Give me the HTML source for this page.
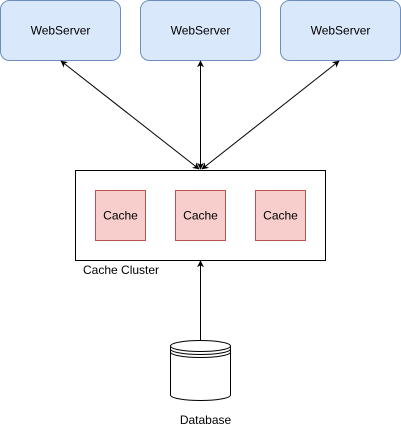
<!DOCTYPE html>
<html><head><meta charset="utf-8"><style>
html,body{margin:0;padding:0;background:#fff;}
svg{display:block;}
text{font-family:"Liberation Sans",Arial,sans-serif;font-size:12px;fill:#000;}
</style></head><body>
<svg width="401" height="431" viewBox="0 0 401 431" xmlns="http://www.w3.org/2000/svg">
<defs>
<marker id="a" viewBox="0 0 10 10" refX="9" refY="5" markerWidth="7" markerHeight="7" orient="auto-start-reverse" markerUnits="userSpaceOnUse">
<path d="M0,0 L10,5 L0,10 L3,5 z" fill="#000"/>
</marker>
</defs>
<rect x="0.5" y="0.5" width="120" height="60" rx="9" fill="#dae8fc" stroke="#6c8ebf"/>
<rect x="140.5" y="0.5" width="120" height="60" rx="9" fill="#dae8fc" stroke="#6c8ebf"/>
<rect x="280.5" y="0.5" width="120" height="60" rx="9" fill="#dae8fc" stroke="#6c8ebf"/>
<text x="60.5" y="34.5" text-anchor="middle">WebServer</text>
<text x="200.5" y="34.5" text-anchor="middle">WebServer</text>
<text x="340.5" y="34.5" text-anchor="middle">WebServer</text>

<rect x="75.5" y="170.5" width="250" height="90" fill="#fff" stroke="#000"/>
<rect x="95.5" y="190.5" width="50" height="50" fill="#f8cecc" stroke="#b85450"/>
<rect x="175.5" y="190.5" width="50" height="50" fill="#f8cecc" stroke="#b85450"/>
<rect x="255.5" y="190.5" width="50" height="50" fill="#f8cecc" stroke="#b85450"/>
<text x="120.5" y="219.5" text-anchor="middle">Cache</text>
<text x="200.5" y="219.5" text-anchor="middle">Cache</text>
<text x="280.5" y="219.5" text-anchor="middle">Cache</text>
<text x="83" y="274">Cache Cluster</text>

<line x1="199" y1="169" x2="61" y2="61" stroke="#000" marker-start="url(#a)" marker-end="url(#a)"/>
<line x1="200.5" y1="169" x2="200.5" y2="61" stroke="#000" marker-start="url(#a)" marker-end="url(#a)"/>
<line x1="202" y1="169" x2="339" y2="61" stroke="#000" marker-start="url(#a)" marker-end="url(#a)"/>

<line x1="200.5" y1="340" x2="200.5" y2="261" stroke="#000" marker-end="url(#a)"/>

<path d="M170.5,346 A30,5.5 0 0 1 230.5,346 L230.5,395 A30,5.5 0 0 1 170.5,395 Z" fill="#fff" stroke="#000"/>
<path d="M170.5,346 A30,5.5 0 0 0 230.5,346" fill="none" stroke="#000"/>
<path d="M170.5,349 A30,5.5 0 0 0 230.5,349" fill="none" stroke="#000"/>
<path d="M170.5,352 A30,5.5 0 0 0 230.5,352" fill="none" stroke="#000"/>
<text x="205.5" y="424" text-anchor="middle">Database</text>
</svg>
</body></html>
